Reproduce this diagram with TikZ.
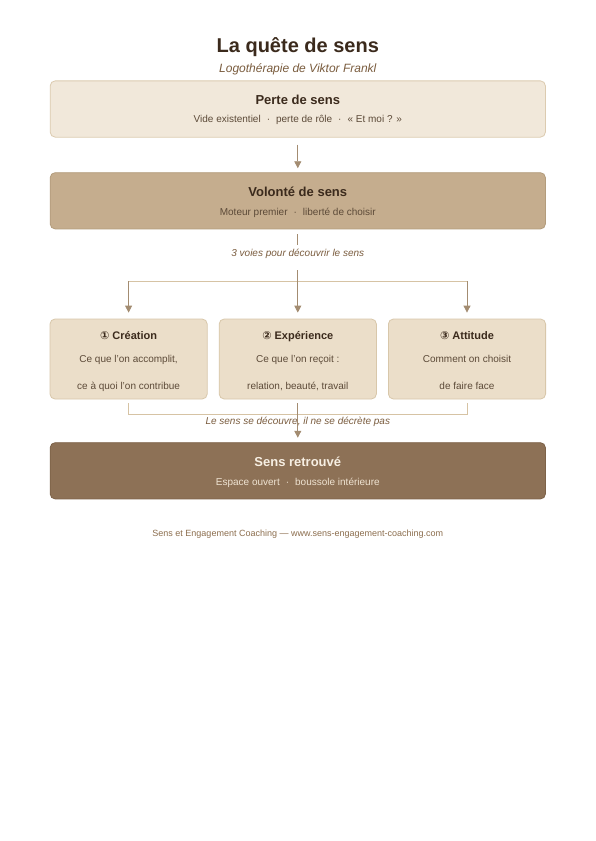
\documentclass[tikz,border=0pt]{standalone}
\usepackage{fontspec}
\setmainfont{Liberation Sans}
\newfontfamily\chiffres{DejaVu Sans}
\usepackage{xcolor}
\usepackage{tikz}
\usetikzlibrary{arrows.meta,calc,positioning}
\definecolor{brunfonce}{HTML}{3B2A1C}
\definecolor{brunmoyen}{HTML}{7A5C3E}
\definecolor{brungris}{HTML}{5C4A38}
\definecolor{fondclair}{HTML}{F1E8DA}
\definecolor{bordclair}{HTML}{DCCBB0}
\definecolor{fondvolonte}{HTML}{C5AD8E}
\definecolor{bordvolonte}{HTML}{B39C7C}
\definecolor{fondvoie}{HTML}{EBDEC9}
\definecolor{bordvoie}{HTML}{D8C7AA}
\definecolor{fondsens}{HTML}{8D7156}
\definecolor{bordsens}{HTML}{7D6248}
\definecolor{creme}{HTML}{F7EFE3}
\definecolor{cremegris}{HTML}{EFE3D2}
\definecolor{trait}{HTML}{A38C71}
\definecolor{traitclair}{HTML}{D6C3A4}
\definecolor{pied}{HTML}{8C6E4E}
\newcommand{\pointm}{\hspace{0.6em}·\hspace{0.6em}}
\tikzset{
  boite/.style={rectangle,rounded corners=5pt,line width=0.8pt,minimum width=495.2pt,minimum height=56.3pt},
  voie/.style={rectangle,rounded corners=5pt,line width=0.8pt,fill=fondvoie,draw=bordvoie,minimum width=157.2pt,minimum height=80pt},
  titre/.style={anchor=base,inner sep=0pt,text=brunfonce,font=\bfseries\fontsize{13}{15}\selectfont},
  titrevoie/.style={titre,font=\bfseries\fontsize{11}{13}\selectfont},
  soustitre/.style={anchor=base,inner sep=0pt,text=brungris,font=\fontsize{10}{12}\selectfont},
  note/.style={anchor=base,inner sep=0pt,text=brunmoyen,font=\itshape\fontsize{10}{12}\selectfont},
  fleche/.style={-{Triangle[length=7pt,width=7pt]},trait,line width=0.8pt},
  lien/.style={traitclair,line width=0.8pt}
}

\begin{document}
\begin{tikzpicture}[x=1pt,y=-1pt]
\fill[white] (0,0) rectangle (595,841);
\useasboundingbox (0,0) rectangle (595,841);
% en-tete
\node[titre,font=\bfseries\fontsize{20}{24}\selectfont] (entete) at (297.8,52.5) {La quête de sens};
\node[anchor=base,inner sep=0pt,text=brunmoyen,font=\itshape\fontsize{12}{14}\selectfont] (soustitre) at (297.8,72.5) {Logothérapie de Viktor Frankl};
% perte de sens
\node[boite,fill=fondclair,draw=bordclair] (perte) at (297.8,109) {};
\node[titre] (perteT) at (297.8,104) {Perte de sens};
\node[soustitre] (perteS) at (297.8,122.5) {Vide existentiel\pointm perte de rôle\pointm « Et moi ? »};
% volonte de sens
\node[boite,fill=fondvolonte,draw=bordvolonte] (volonte) at (297.8,200.8) {};
\node[titre] (volonteT) at (297.8,196) {Volonté de sens};
\node[soustitre] (volonteS) at (297.8,215) {Moteur premier\pointm liberté de choisir};
\draw[fleche,shorten <=7pt,shorten >=4pt] (perte) -- (volonte);
% trois voies
\node[note] (voies) at (297.8,256.3) {3 voies pour découvrir le sens};
\node[voie] (creation) at (128.6,359) {};
\node[voie] (experience) at (297.8,359) {};
\node[voie] (attitude) at (467,359) {};
\node[titrevoie] (creationT) at (128.6,339) {{\chiffres ①} Création};
\node[soustitre] (creationA) at (128.6,362.7) {Ce que l'on accomplit,};
\node[soustitre] (creationB) at (128.6,389) {ce à quoi l'on contribue};
\node[titrevoie] (experienceT) at (297.8,339) {{\chiffres ②} Expérience};
\node[soustitre] (experienceA) at (297.8,362.7) {Ce que l'on reçoit :};
\node[soustitre] (experienceB) at (297.8,389) {relation, beauté, travail};
\node[titrevoie] (attitudeT) at (467,339) {{\chiffres ③} Attitude};
\node[soustitre] (attitudeA) at (467,362.7) {Comment on choisit};
\node[soustitre] (attitudeB) at (467,389) {de faire face};
% branches
\coordinate (branche) at (297.8,281);
\draw[trait,line width=0.8pt,shorten <=5pt,shorten >=4pt] (volonte) -- (voies);
\draw[lien] (creation.north |- branche) -- (attitude.north |- branche);
\draw[fleche,shorten <=11.5pt,shorten >=6pt] (voies) -- (experience);
\foreach \v in {creation,attitude}{
  \draw[fleche,shorten >=6pt] (\v.north |- branche) -- (\v);}
% sens retrouve
\node[boite,fill=fondsens,draw=bordsens] (retrouve) at (297.8,470.8) {};
\node[titre,text=creme] (retrouveT) at (297.8,466) {Sens retrouvé};
\node[soustitre,text=cremegris] (retrouveS) at (297.8,485) {Espace ouvert\pointm boussole intérieure};
\coordinate (retour) at (297.8,414.5);
\draw[lien,shorten <=4pt,shorten >=4pt] (creation) -- (creation |- retour) -- (attitude |- retour) -- (attitude);
\draw[fleche,shorten <=4pt,shorten >=4.5pt] (experience) -- (retrouve);
\node[note] (devise) at (297.8,424) {Le sens se découvre, il ne se décrète pas};
% pied de page
\node[anchor=base,inner sep=0pt,text=pied,font=\fontsize{9}{11}\selectfont] (piedpage) at (297.8,536) {Sens et Engagement Coaching — www.sens-engagement-coaching.com};
\end{tikzpicture}
\end{document}
